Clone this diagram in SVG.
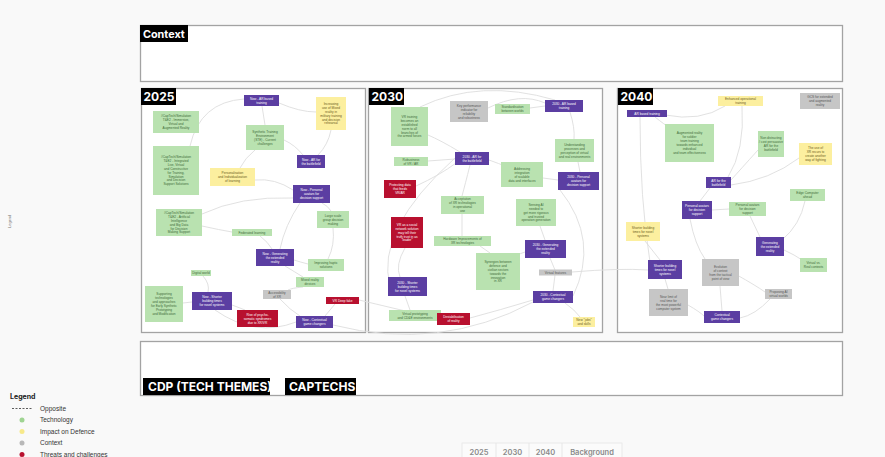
<svg xmlns="http://www.w3.org/2000/svg" width="885" height="457" viewBox="0 0 885 457">
<style>
.bg{fill:#f9f9f9}
.panel{fill:#ffffff;stroke:#a3a3a3;stroke-width:1.3}
.lab{fill:#000}
.labt{fill:#fff;font-family:Inter,"Open Sans","Liberation Sans",sans-serif;font-weight:700;font-size:12px}
.gn{fill:#b9e2b0}
.yl{fill:#fcef9f}
.gy{fill:#c6c6c6}
.pu{fill:#5b3ea2}
.rd{fill:#b8102f}
text.n{font-family:"Liberation Sans",Arial,sans-serif;font-size:3.2px;text-anchor:middle}
.tg{fill:#3d6a38}
.ty{fill:#6a5a1c}
.tk{fill:#555}
.tw{fill:#ffffff}
#connectors path{fill:none;stroke:#dedede;stroke-width:0.9}
.leg{font-family:"Liberation Sans",Arial,sans-serif;font-size:6.5px;fill:#333}
.tab{font-family:Inter,"Liberation Sans",sans-serif;font-size:7.5px;font-weight:600;fill:#8a8a8a;text-anchor:middle}
</style>
<rect class="bg" x="0" y="0" width="885" height="457"/>

<!-- panels -->
<g id="panels">
<rect class="panel" x="140.5" y="25.5" width="702" height="56"/>
<rect class="panel" x="141.5" y="88.5" width="224" height="244"/>
<rect class="panel" x="368.5" y="88.5" width="234" height="244"/>
<rect class="panel" x="617.5" y="88.5" width="225" height="244"/>
<rect class="panel" x="140.5" y="341.5" width="702" height="54"/>
<rect class="lab" x="140" y="25" width="48" height="17"/>
<text class="labt" x="143" y="37.5" style="font-size:10.8px">Context</text>
<rect class="lab" x="141" y="88" width="35" height="17"/>
<text class="labt" x="143.5" y="101">2025</text>
<rect class="lab" x="369" y="88" width="35" height="17"/>
<text class="labt" x="371.5" y="101">2030</text>
<rect class="lab" x="618" y="88" width="35" height="17"/>
<text class="labt" x="620.5" y="101">2040</text>
<rect class="lab" x="143" y="378" width="127" height="17"/>
<text class="labt" x="148" y="391">CDP (TECH THEMES)</text>
<rect class="lab" x="285" y="378" width="71" height="17"/>
<text class="labt" x="289" y="391">CAPTECHS</text>
</g>

<!-- connectors -->
<g id="connectors">
<path d="M244,99 Q200,102 190,146"/>
<path d="M262,106 L265,125"/>
<path d="M279,103 Q300,112 316,112"/>
<path d="M331,130 Q328,145 318,155"/>
<path d="M284,140 Q295,145 303,155"/>
<path d="M255,150 Q245,158 240,168"/>
<path d="M255,180 Q275,178 293,190"/>
<path d="M322,203 Q328,206 331,211"/>
<path d="M293,198 Q240,196 202,214"/>
<path d="M202,226 Q220,230 232,232"/>
<path d="M260,236 Q268,242 272,249"/>
<path d="M294,260 Q300,262 308,264"/>
<path d="M285,266 Q295,272 303,277"/>
<path d="M300,203 Q285,225 280,249"/>
<path d="M333,228 Q335,245 328,259"/>
<path d="M203,276 Q210,284 208,292"/>
<path d="M183,303 L192,302"/>
<path d="M232,305 Q240,308 245,310"/>
<path d="M280,299 Q290,310 300,316"/>
<path d="M335,304 Q330,310 325,316"/>
<path d="M303,287 Q292,288 288,290"/>
<path d="M215,310 Q255,338 296,322"/>
<path d="M359,300 Q400,310 437,318"/>
<path d="M333,325 Q440,352 533,302"/>
<path d="M488,108 Q520,92 545,103"/>
<path d="M420,107 Q480,78 555,100"/>
<path d="M530,108 L545,106"/>
<path d="M570,112 Q575,128 574,139"/>
<path d="M578,162 L580,172"/>
<path d="M543,178 L558,180"/>
<path d="M489,160 Q500,164 505,166"/>
<path d="M455,159 L428,161"/>
<path d="M460,152 Q440,140 428,135"/>
<path d="M470,165 Q465,185 462,196"/>
<path d="M416,186 Q440,175 456,163"/>
<path d="M462,214 L462,236"/>
<path d="M540,226 L545,240"/>
<path d="M525,252 Q515,255 512,260"/>
<path d="M550,258 L555,270"/>
<path d="M555,275 L553,291"/>
<path d="M565,303 Q575,310 580,317"/>
<path d="M533,300 Q500,310 470,318"/>
<path d="M405,296 L410,310"/>
<path d="M405,248 Q395,265 400,277"/>
<path d="M480,246 L490,253"/>
<path d="M455,158 Q375,230 390,286"/>
<path d="M560,190 Q600,240 573,296"/>
<path d="M572,272 Q620,268 648,270"/>
<path d="M655,117 Q665,125 670,128"/>
<path d="M665,115 Q700,122 725,106"/>
<path d="M742,106 Q745,150 728,177"/>
<path d="M758,150 Q740,170 731,180"/>
<path d="M799,158 Q770,180 731,185"/>
<path d="M710,188 L700,201"/>
<path d="M712,210 L729,209"/>
<path d="M805,201 Q800,225 782,240"/>
<path d="M784,250 Q795,255 802,260"/>
<path d="M645,241 L660,260"/>
<path d="M665,279 L668,289"/>
<path d="M720,286 L722,311"/>
<path d="M688,305 Q700,312 704,316"/>
<path d="M770,299 Q755,315 740,318"/>
<path d="M640,117 Q640,200 650,262"/>
<path d="M690,219 Q695,245 705,259"/>
<path d="M750,216 L760,237"/>
<path d="M737,275 Q755,285 765,292"/>
</g>

<!-- 2025 nodes -->
<g id="n1"><rect class="pu" x="244" y="95" width="35" height="11"/><text class="n tw" x="261.5" y="99.6">Now - AR based<tspan x="261.5" dy="3.9">training</tspan></text></g>
<g id="n2"><rect class="yl" x="316" y="97" width="30" height="33"/><text class="n ty" x="331" y="104.9">Increasing<tspan x="331" dy="3.9">use of Mixed</tspan><tspan x="331" dy="3.9">reality in</tspan><tspan x="331" dy="3.9">military training</tspan><tspan x="331" dy="3.9">and decision</tspan><tspan x="331" dy="3.9">rehearsal</tspan></text></g>
<g id="n3"><rect class="gn" x="153" y="111" width="46" height="22"/><text class="n tg" x="176" y="117.3">#CapTech/Simulation<tspan x="176" dy="3.9">T&amp;E2 - Immersive,</tspan><tspan x="176" dy="3.9">Virtual and</tspan><tspan x="176" dy="3.9">Augmented Reality</tspan></text></g>
<g id="n4"><rect class="gn" x="246" y="125" width="38" height="25"/><text class="n tg" x="265" y="132.8">Synthetic Training<tspan x="265" dy="3.9">Environment</tspan><tspan x="265" dy="3.9">(STE) - Current</tspan><tspan x="265" dy="3.9">challenges</tspan></text></g>
<g id="n5"><rect class="gn" x="153" y="146" width="46" height="49"/><text class="n tg" x="176" y="158">#CapTech/Simulation<tspan x="176" dy="3.9">T&amp;E2 - Integrated</tspan><tspan x="176" dy="3.9">Live, Virtual</tspan><tspan x="176" dy="3.9">and Constructive</tspan><tspan x="176" dy="3.9">for Training,</tspan><tspan x="176" dy="3.9">Simulation</tspan><tspan x="176" dy="3.9">and Decision</tspan><tspan x="176" dy="3.9">Support Solutions</tspan></text></g>
<g id="n6"><rect class="pu" x="297" y="155" width="28" height="13"/><text class="n tw" x="311" y="160.7">Now - AR for<tspan x="311" dy="3.9">the battlefield</tspan></text></g>
<g id="n7"><rect class="yl" x="210" y="168" width="45" height="18"/><text class="n ty" x="232.5" y="174.2">Personalisation<tspan x="232.5" dy="3.9">and Individualization</tspan><tspan x="232.5" dy="3.9">of learning</tspan></text></g>
<g id="n8"><rect class="pu" x="293" y="185" width="37" height="18"/><text class="n tw" x="311.5" y="191.2">Now - Personal<tspan x="311.5" dy="3.9">avatars for</tspan><tspan x="311.5" dy="3.9">decision support</tspan></text></g>
<g id="n9"><rect class="gn" x="156" y="209" width="46" height="27"/><text class="n tg" x="179" y="213.9">#CapTech/Simulation<tspan x="179" dy="3.9">T&amp;E2 - Artificial</tspan><tspan x="179" dy="3.9">Intelligence</tspan><tspan x="179" dy="3.9">and Big Data</tspan><tspan x="179" dy="3.9">for Decision</tspan><tspan x="179" dy="3.9">Making Support</tspan></text></g>
<g id="n10"><rect class="gn" x="317" y="211" width="32" height="17"/><text class="n tg" x="333" y="216.7">Large scale<tspan x="333" dy="3.9">group decision</tspan><tspan x="333" dy="3.9">making</tspan></text></g>
<g id="n11"><rect class="gn" x="232" y="229" width="40" height="7"/><text class="n tg" x="252" y="233.6">Federated learning</text></g>
<g id="n12"><rect class="pu" x="256" y="249" width="38" height="17"/><text class="n tw" x="275" y="254.7">Now - Generating<tspan x="275" dy="3.9">the extended</tspan><tspan x="275" dy="3.9">reality</tspan></text></g>
<g id="n13"><rect class="gn" x="308" y="259" width="36" height="12"/><text class="n tg" x="326" y="264.2">Improving haptic<tspan x="326" dy="3.9">solutions</tspan></text></g>
<g id="n14"><rect class="gn" x="191" y="270" width="20" height="6"/><text class="n tg" x="201" y="274.1">Digital world</text></g>
<g id="n15"><rect class="gn" x="296" y="277" width="28" height="10"/><text class="n tg" x="310" y="281.2">Mixed reality<tspan x="310" dy="3.9">devices</tspan></text></g>
<g id="n16"><rect class="gy" x="263" y="290" width="28" height="9"/><text class="n tk" x="277" y="293.7">Accessibility<tspan x="277" dy="3.9">of XR</tspan></text></g>
<g id="n17"><rect class="rd" x="326" y="297" width="33" height="7"/><text class="n tw" x="342.5" y="301.6">VR Deep fake</text></g>
<g id="n18"><rect class="gn" x="145" y="286" width="38" height="36"/><text class="n tg" x="164" y="295.4">Supporting<tspan x="164" dy="3.9">technologies</tspan><tspan x="164" dy="3.9">and approaches</tspan><tspan x="164" dy="3.9">for Early Synthetic</tspan><tspan x="164" dy="3.9">Prototyping</tspan><tspan x="164" dy="3.9">and Modification</tspan></text></g>
<g id="n19"><rect class="pu" x="192" y="292" width="40" height="18"/><text class="n tw" x="212" y="298.2">Now - Shorter<tspan x="212" dy="3.9">building times</tspan><tspan x="212" dy="3.9">for novel systems</tspan></text></g>
<g id="n20"><rect class="rd" x="237" y="310" width="41" height="17"/><text class="n tw" x="257.5" y="315.7">Rise of psycho-<tspan x="257.5" dy="3.9">somatic syndromes</tspan><tspan x="257.5" dy="3.9">due to XR/VR</tspan></text></g>
<g id="n21"><rect class="pu" x="296" y="316" width="37" height="12"/><text class="n tw" x="314.5" y="321.2">Now - Contextual<tspan x="314.5" dy="3.9">game changers</tspan></text></g>

<!-- 2030 nodes -->
<g id="n22"><rect class="gn" x="391" y="107" width="37" height="39"/><text class="n tg" x="409.5" y="117.9">VR training<tspan x="409.5" dy="3.9">becomes an</tspan><tspan x="409.5" dy="3.9">established</tspan><tspan x="409.5" dy="3.9">norm to all</tspan><tspan x="409.5" dy="3.9">branches of</tspan><tspan x="409.5" dy="3.9">the armed forces</tspan></text></g>
<g id="n23"><rect class="gy" x="450" y="101" width="38" height="21"/><text class="n tk" x="469" y="106.8">Key performance<tspan x="469" dy="3.9">indicator for</tspan><tspan x="469" dy="3.9">reliability</tspan><tspan x="469" dy="3.9">and robustness</tspan></text></g>
<g id="n24"><rect class="gn" x="495" y="104" width="35" height="10"/><text class="n tg" x="512.5" y="108.2">Standardisation<tspan x="512.5" dy="3.9">between worlds</tspan></text></g>
<g id="n25"><rect class="pu" x="545" y="100" width="38" height="12"/><text class="n tw" x="564" y="105.2">2030 - AR based<tspan x="564" dy="3.9">training</tspan></text></g>
<g id="n26"><rect class="gn" x="394" y="157" width="34" height="9"/><text class="n tg" x="411" y="160.7">Robustness<tspan x="411" dy="3.9">of VR / AR</tspan></text></g>
<g id="n27"><rect class="pu" x="455" y="152" width="34" height="13"/><text class="n tw" x="472" y="157.7">2030 - AR for<tspan x="472" dy="3.9">the battlefield</tspan></text></g>
<g id="n28"><rect class="gn" x="555" y="139" width="39" height="23"/><text class="n tg" x="574.5" y="145.8">Understanding<tspan x="574.5" dy="3.9">processes and</tspan><tspan x="574.5" dy="3.9">perception of virtual</tspan><tspan x="574.5" dy="3.9">and real environments</tspan></text></g>
<g id="n29"><rect class="gn" x="501" y="162" width="42" height="25"/><text class="n tg" x="522" y="169.8">Addressing<tspan x="522" dy="3.9">integration</tspan><tspan x="522" dy="3.9">of scalable</tspan><tspan x="522" dy="3.9">data and interfaces</tspan></text></g>
<g id="n30"><rect class="rd" x="384" y="180" width="32" height="18"/><text class="n tw" x="400" y="186.2">Protecting data<tspan x="400" dy="3.9">that feeds</tspan><tspan x="400" dy="3.9">VR/AR</tspan></text></g>
<g id="n31"><rect class="pu" x="558" y="172" width="41" height="18"/><text class="n tw" x="578.5" y="178.2">2030 - Personal<tspan x="578.5" dy="3.9">avatars for</tspan><tspan x="578.5" dy="3.9">decision support</tspan></text></g>
<g id="n32"><rect class="gn" x="441" y="196" width="43" height="18"/><text class="n tg" x="462.5" y="200.3">Acceptation<tspan x="462.5" dy="3.9">of XR technologies</tspan><tspan x="462.5" dy="3.9">in operational</tspan><tspan x="462.5" dy="3.9">use</tspan></text></g>
<g id="n33"><rect class="gn" x="516" y="199" width="40" height="27"/><text class="n tg" x="536" y="205.8">Sensing AI<tspan x="536" dy="3.9">needed to</tspan><tspan x="536" dy="3.9">get more rigorous</tspan><tspan x="536" dy="3.9">and trusted</tspan><tspan x="536" dy="3.9">operation generation</tspan></text></g>
<g id="n34"><rect class="rd" x="391" y="217" width="32" height="31"/><text class="n tw" x="407" y="225.8">VR as a social<tspan x="407" dy="3.9">network solution</tspan><tspan x="407" dy="3.9">may tell their</tspan><tspan x="407" dy="3.9">truth trust in as</tspan><tspan x="407" dy="3.9">"leader"</tspan></text></g>
<g id="n35"><rect class="gn" x="434" y="236" width="57" height="10"/><text class="n tg" x="462.5" y="240.2">Hardware Improvements of<tspan x="462.5" dy="3.9">XR technologies</tspan></text></g>
<g id="n36"><rect class="gn" x="476" y="253" width="44" height="37"/><text class="n tg" x="498" y="262.9">Synergies between<tspan x="498" dy="3.9">defence and</tspan><tspan x="498" dy="3.9">civilian sectors</tspan><tspan x="498" dy="3.9">towards the</tspan><tspan x="498" dy="3.9">innovation</tspan><tspan x="498" dy="3.9">in XR</tspan></text></g>
<g id="n37"><rect class="pu" x="525" y="240" width="41" height="18"/><text class="n tw" x="545.5" y="246.2">2030 - Generating<tspan x="545.5" dy="3.9">the extended</tspan><tspan x="545.5" dy="3.9">reality</tspan></text></g>
<g id="n38"><rect class="gy" x="539" y="269.5" width="33" height="6"/><text class="n tk" x="555.5" y="273.6">Virtual features</text></g>
<g id="n39"><rect class="pu" x="388" y="277" width="39" height="19"/><text class="n tw" x="407.5" y="283.7">2030 - Shorter<tspan x="407.5" dy="3.9">building times</tspan><tspan x="407.5" dy="3.9">for novel systems</tspan></text></g>
<g id="n40"><rect class="pu" x="533" y="291" width="40" height="12"/><text class="n tw" x="553" y="296.2">2030 - Contextual<tspan x="553" dy="3.9">game changers</tspan></text></g>
<g id="n41"><rect class="gn" x="389" y="310" width="52" height="11"/><text class="n tg" x="415" y="314.7">Virtual prototyping<tspan x="415" dy="3.9">and CD&amp;E environments</tspan></text></g>
<g id="n42"><rect class="rd" x="437" y="313" width="33" height="12"/><text class="n tw" x="453.5" y="318.2">Destabilisation<tspan x="453.5" dy="3.9">of reality</tspan></text></g>
<g id="n43"><rect class="yl" x="573" y="317" width="22" height="10"/><text class="n ty" x="584" y="321.2">New "jobs"<tspan x="584" dy="3.9">and skills</tspan></text></g>

<!-- 2040 nodes -->
<g id="n44"><rect class="pu" x="627" y="110" width="40" height="7"/><text class="n tw" x="647" y="114.6">AR based training</text></g>
<g id="n45"><rect class="yl" x="718" y="96" width="45" height="10"/><text class="n ty" x="740.5" y="100.2">Enhanced operational<tspan x="740.5" dy="3.9">training</tspan></text></g>
<g id="n46"><rect class="gy" x="800" y="93" width="40" height="16"/><text class="n tk" x="820" y="98.2">GCS for extended<tspan x="820" dy="3.9">and augmented</tspan><tspan x="820" dy="3.9">reality</tspan></text></g>
<g id="n47"><rect class="gn" x="665" y="124" width="49" height="38"/><text class="n tg" x="689.5" y="134.4">Augmented reality<tspan x="689.5" dy="3.9">for soldier</tspan><tspan x="689.5" dy="3.9">team training</tspan><tspan x="689.5" dy="3.9">towards enhanced</tspan><tspan x="689.5" dy="3.9">individual</tspan><tspan x="689.5" dy="3.9">and team effectiveness</tspan></text></g>
<g id="n48"><rect class="gn" x="758" y="131" width="26" height="26"/><text class="n tg" x="771" y="139.3">Non distracting<tspan x="771" dy="3.9">/ cost persuasive</tspan><tspan x="771" dy="3.9">AR for the</tspan><tspan x="771" dy="3.9">battlefield</tspan></text></g>
<g id="n49"><rect class="yl" x="799" y="143" width="33" height="22"/><text class="n ty" x="815.5" y="149.3">The use of<tspan x="815.5" dy="3.9">XR recurs to</tspan><tspan x="815.5" dy="3.9">create another</tspan><tspan x="815.5" dy="3.9">way of fighting</tspan></text></g>
<g id="n50"><rect class="pu" x="706" y="177" width="25" height="11"/><text class="n tw" x="718.5" y="181.7">AR for the<tspan x="718.5" dy="3.9">battlefield</tspan></text></g>
<g id="n51"><rect class="pu" x="682" y="201" width="30" height="18"/><text class="n tw" x="697" y="207.2">Personal avatars<tspan x="697" dy="3.9">for decision</tspan><tspan x="697" dy="3.9">support</tspan></text></g>
<g id="n52"><rect class="gn" x="729" y="202" width="37" height="14"/><text class="n tg" x="747.5" y="206.2">Personal avatars<tspan x="747.5" dy="3.9">for decision</tspan><tspan x="747.5" dy="3.9">support</tspan></text></g>
<g id="n53"><rect class="gn" x="790" y="189" width="35" height="12"/><text class="n tg" x="807.5" y="194.2">Edge Computer<tspan x="807.5" dy="3.9">ahead</tspan></text></g>
<g id="n54"><rect class="yl" x="626" y="222" width="34" height="19"/><text class="n ty" x="643" y="228.7">Shorter building<tspan x="643" dy="3.9">times for novel</tspan><tspan x="643" dy="3.9">systems</tspan></text></g>
<g id="n55"><rect class="pu" x="756" y="237" width="28" height="19"/><text class="n tw" x="770" y="243.7">Generating<tspan x="770" dy="3.9">the extended</tspan><tspan x="770" dy="3.9">reality</tspan></text></g>
<g id="n56"><rect class="gn" x="800" y="258" width="27" height="14"/><text class="n tg" x="813.5" y="264.2">Virtual vs.<tspan x="813.5" dy="3.9">Real contexts</tspan></text></g>
<g id="n57"><rect class="pu" x="648" y="260" width="34" height="19"/><text class="n tw" x="665" y="266.7">Shorter building<tspan x="665" dy="3.9">times for novel</tspan><tspan x="665" dy="3.9">systems</tspan></text></g>
<g id="n58"><rect class="gy" x="702" y="259" width="37" height="27"/><text class="n tk" x="720.5" y="267.8">Evolution<tspan x="720.5" dy="3.9">of context</tspan><tspan x="720.5" dy="3.9">from the tactical</tspan><tspan x="720.5" dy="3.9">point of view</tspan></text></g>
<g id="n59"><rect class="gy" x="649" y="289" width="39" height="27"/><text class="n tk" x="668.5" y="297.8">Near limit of<tspan x="668.5" dy="3.9">real time for</tspan><tspan x="668.5" dy="3.9">the most powerful</tspan><tspan x="668.5" dy="3.9">computer system</tspan></text></g>
<g id="n60"><rect class="gy" x="765" y="289" width="27" height="10"/><text class="n tk" x="778.5" y="293.2">Proposing AI<tspan x="778.5" dy="3.9">virtual worlds</tspan></text></g>
<g id="n61"><rect class="pu" x="704" y="311" width="36" height="12"/><text class="n tw" x="722" y="316.2">Contextual<tspan x="722" dy="3.9">game changers</tspan></text></g>

<!-- side label -->
<text x="11" y="228" transform="rotate(-90 11 228)" style="font-family:'Liberation Sans',sans-serif;font-size:4px;fill:#777">Legend</text>

<!-- legend -->
<g id="legend">
<text x="10" y="399" style="font-family:Inter,'Liberation Sans',sans-serif;font-size:7px;font-weight:700;fill:#222">Legend</text>
<line x1="12" y1="408.5" x2="32" y2="408.5" stroke="#333" stroke-width="0.8" stroke-dasharray="2,1.5"/>
<text class="leg" x="40" y="410.5">Opposite</text>
<circle cx="22" cy="420" r="2.5" fill="#9fd492"/>
<text class="leg" x="40" y="422">Technology</text>
<circle cx="22" cy="431.5" r="2.5" fill="#f7e98a"/>
<text class="leg" x="40" y="433.5">Impact on Defence</text>
<circle cx="22" cy="443" r="2.5" fill="#b8b8b8"/>
<text class="leg" x="40" y="445">Context</text>
<circle cx="22" cy="454.5" r="2.5" fill="#b8102f"/>
<text class="leg" x="40" y="456.5">Threats and challenges</text>
</g>

<!-- bottom tabs -->
<g id="tabs">
<rect x="462" y="443" width="160" height="16" fill="#fbfbfb" stroke="#e6e6e6" stroke-width="0.8"/>
<line x1="496" y1="443" x2="496" y2="457" stroke="#e3e3e3" stroke-width="0.8"/>
<line x1="529" y1="443" x2="529" y2="457" stroke="#e3e3e3" stroke-width="0.8"/>
<line x1="562" y1="443" x2="562" y2="457" stroke="#e3e3e3" stroke-width="0.8"/>
<text class="tab" x="479" y="455">2025</text>
<text class="tab" x="512.5" y="455">2030</text>
<text class="tab" x="545.5" y="455">2040</text>
<text class="tab" x="592" y="455">Background</text>
</g>
</svg>
